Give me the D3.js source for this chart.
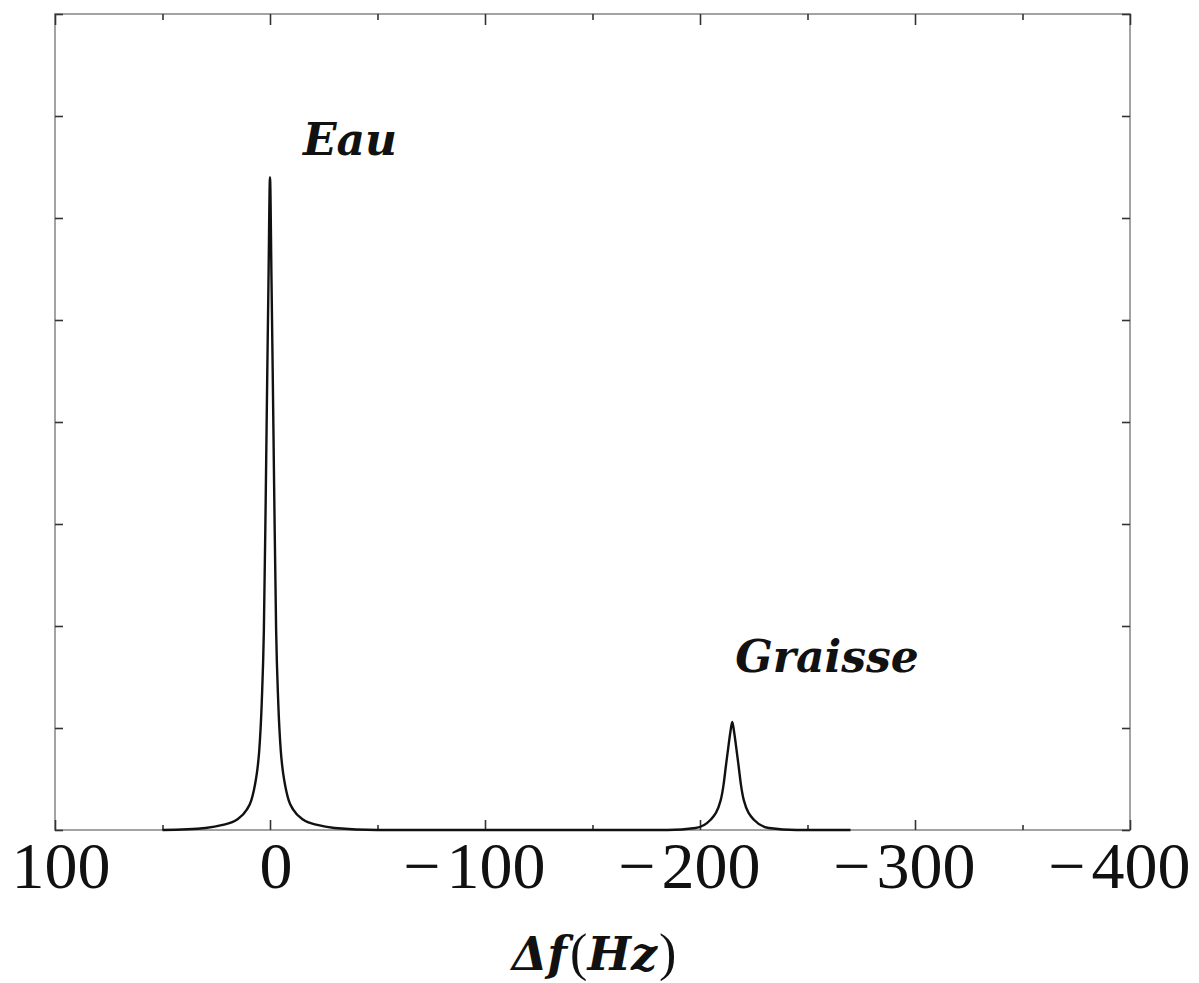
<!DOCTYPE html>
<html>
<head>
<meta charset="utf-8">
<script src="https://cdn.jsdelivr.net/npm/d3@7"></script>
<style>
  html, body { margin: 0; padding: 0; background: #fff; }
  svg { display: block; }
</style>
</head>
<body>
<svg id="chart" width="1199" height="983"></svg>
<script>
// ---- data ----
const freqHz = [50, 30, 22, 15.5, 10.8, 8.7, 7.5, 6.6, 5.9, 5.0, 3.8, 2.85, 2.0, 1.25, 0.7, 0,
  -0.7, -1.25, -2.0, -2.85, -3.8, -5.0, -5.9, -6.6, -7.5, -8.7, -10.8, -15.5, -22, -30, -50,
  -185, -198, -204.8, -209.6, -211, -212, -213.4, -214.2, -215,
  -215.8, -216.6, -218, -219, -220.4, -225.2, -232, -245, -270];
const intensity = [0, 0.02, 0.05, 0.10, 0.20, 0.29, 0.39, 0.49, 0.59, 0.78, 1.27, 1.96, 3.24, 4.51, 5.39, 6.40,
  5.39, 4.51, 3.24, 1.96, 1.27, 0.78, 0.59, 0.49, 0.39, 0.29, 0.20, 0.10, 0.05, 0.02, 0,
  0, 0.02, 0.098, 0.29, 0.45, 0.62, 0.85, 0.97, 1.06,
  0.97, 0.85, 0.62, 0.45, 0.29, 0.098, 0.02, 0, 0];
const xTickValues = [100, 0, -100, -200, -300, -400];
const xTickLabels = ["100", "0", "\u2212100", "\u2212200", "\u2212300", "\u2212400"];
const xMinorValues = [100, 50, 0, -50, -100, -150, -200, -250, -300, -350, -400];
const yTickValues = [0, 1, 2, 3, 4, 5, 6, 7, 8];
const peakNames = ["Eau", "Graisse"];
const peakHz = [0, -215];
const peakHeight = [6.40, 1.06];

// ---- layout ----
const svg = d3.select("#chart");
const L = 55, R = 1130, T = 14, B = 830;
const x = d3.scaleLinear().domain([100, -400]).range([L, R]);
const y = d3.scaleLinear().domain([0, 8]).range([B, T]);

// frame
svg.append("rect").attr("x", L).attr("y", T).attr("width", R - L).attr("height", B - T)
  .attr("fill", "none").attr("stroke", "#a3a3a3").attr("stroke-width", 2);

function styleAxis(g) {
  g.select(".domain").remove();
  g.selectAll(".tick line").attr("stroke", "#333").attr("stroke-width", 1.6);
  g.selectAll(".tick text").remove();
}
const majorSet = new Set(xTickValues);
// top ticks (inward)
const topAx = svg.append("g").attr("transform", `translate(0,${T})`)
  .call(d3.axisBottom(x).tickValues(xMinorValues).tickSize(0));
styleAxis(topAx);
topAx.selectAll(".tick line").attr("y2", d => majorSet.has(d) ? 11 : 6);
// bottom ticks (inward)
const botAx = svg.append("g").attr("transform", `translate(0,${B})`)
  .call(d3.axisTop(x).tickValues(xMinorValues).tickSize(0));
styleAxis(botAx);
botAx.selectAll(".tick line").attr("y2", d => majorSet.has(d) ? -10 : -5);
// left / right ticks
const leftAx = svg.append("g").attr("transform", `translate(${L},0)`)
  .call(d3.axisRight(y).tickValues(yTickValues).tickSize(8));
styleAxis(leftAx);
const rightAx = svg.append("g").attr("transform", `translate(${R},0)`)
  .call(d3.axisLeft(y).tickValues(yTickValues).tickSize(8));
styleAxis(rightAx);

// spectrum line
const pts = freqHz.map((f, i) => [f, intensity[i]]);
const line = d3.line().x(d => x(d[0])).y(d => y(d[1])).curve(d3.curveMonotoneX);
svg.append("path").datum(pts).attr("d", line)
  .attr("fill", "none").attr("stroke", "#111").attr("stroke-width", 2.4)
  .attr("stroke-linejoin", "round");

// x tick labels (digits centered slightly right of the tick, minus sign hanging left)
const labFont = "'Liberation Serif', 'Times New Roman', serif";
xTickValues.forEach((v, i) => {
  const s = xTickLabels[i];
  const neg = s.startsWith("\u2212");
  const digits = neg ? s.slice(1) : s;
  const t = svg.append("text").attr("x", x(v) + (neg ? 11 : 6)).attr("y", 888)
    .attr("text-anchor", "middle").attr("font-family", labFont).attr("font-size", 66)
    .attr("fill", "#111").text(digits);
  if (neg) {
    const w = t.node().getComputedTextLength();
    svg.append("text").attr("x", x(v) + 11 - w / 2 - 6).attr("y", 888)
      .attr("text-anchor", "end").attr("font-family", labFont).attr("font-size", 66)
      .attr("fill", "#111").text("\u2212");
  }
});

// peak labels
const pkFont = "'DejaVu Serif', serif";
const pkDx = [33, 3];
const pkY = [155, 672];
peakNames.forEach((n, i) => {
  svg.append("text").attr("x", x(peakHz[i]) + pkDx[i]).attr("y", pkY[i])
    .attr("font-family", pkFont).attr("font-style", "italic").attr("font-weight", "bold")
    .attr("font-size", 44).attr("fill", "#111").text(n);
});

// axis title
const title = svg.append("text").attr("x", 594).attr("y", 970).attr("text-anchor", "middle")
  .attr("fill", "#111").attr("font-size", 46);
title.append("tspan").attr("font-family", pkFont).attr("font-style", "italic").attr("font-weight", "bold").text("\u0394f");
title.append("tspan").attr("font-family", labFont).attr("font-size", 52).attr("dx", 3).text("(");
title.append("tspan").attr("font-family", pkFont).attr("font-style", "italic").attr("font-weight", "bold").text("Hz");
title.append("tspan").attr("font-family", labFont).attr("font-size", 52).attr("dx", 2).text(")");
</script>
</body>
</html>
